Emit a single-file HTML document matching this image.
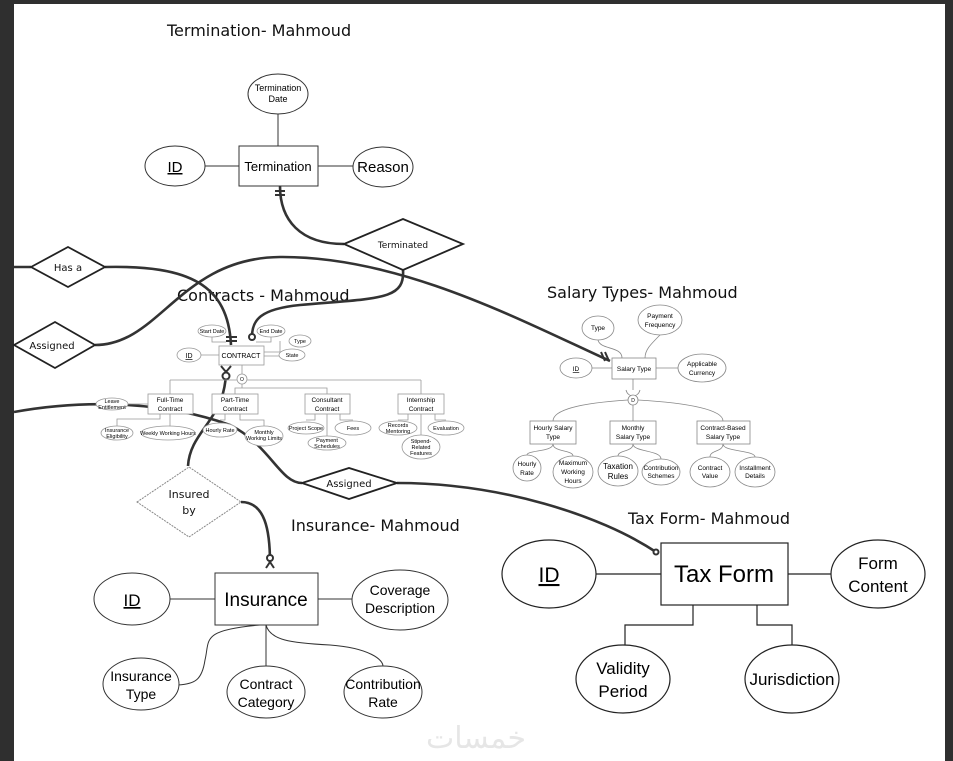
<!DOCTYPE html>
<html><head><meta charset="utf-8"><style>
html,body{margin:0;padding:0;background:#2f2f2f;}
svg{display:block;}
.t{font-family:"Liberation Sans",sans-serif;fill:#000;}
.o{font-family:"DejaVu Sans","Liberation Sans",sans-serif;fill:#111;}
</style></head><body>
<svg width="953" height="761" viewBox="0 0 953 761" xmlns="http://www.w3.org/2000/svg">
<rect x="0" y="0" width="953" height="761" fill="#2f2f2f"/>
<rect x="14" y="4" width="931" height="757" fill="#fff"/>

<!-- Titles -->
<text x="167" y="36" class="o" font-size="16">Termination- Mahmoud</text>
<text x="177" y="301" class="o" font-size="16">Contracts - Mahmoud</text>
<text x="547" y="298" class="o" font-size="16">Salary Types- Mahmoud</text>
<text x="291" y="531" class="o" font-size="16">Insurance- Mahmoud</text>
<text x="628" y="524" class="o" font-size="16">Tax Form- Mahmoud</text>

<!-- Termination -->
<g stroke="#333" stroke-width="1" fill="#fff">
<line x1="278" y1="114" x2="278" y2="146"/>
<line x1="205" y1="166" x2="239" y2="166"/>
<line x1="318" y1="166" x2="353" y2="166"/>
<ellipse cx="278" cy="94" rx="30" ry="20"/>
<rect x="239" y="146" width="79" height="40"/>
<ellipse cx="175" cy="166" rx="30" ry="20"/>
<ellipse cx="383" cy="167" rx="30" ry="20"/>
</g>
<text x="278" y="91" class="t" font-size="9" text-anchor="middle">Termination</text>
<text x="278" y="102" class="t" font-size="9" text-anchor="middle">Date</text>
<text x="278" y="171" class="t" font-size="13" text-anchor="middle">Termination</text>
<text x="175" y="172" class="t" font-size="15" text-anchor="middle" text-decoration="underline">ID</text>
<text x="383" y="172" class="t" font-size="15" text-anchor="middle">Reason</text>

<!-- Thick relationship lines -->
<g stroke="#333" stroke-width="2.6" fill="none">
<path d="M280,186 C280,220 300,244 344,244"/>
<path d="M14,267 L31,267"/>
<path d="M105,267 C190,265 228,285 231,345"/>
<path d="M95,345 C160,345 180,258 280,257 C400,256 520,320 610,361"/>
<path d="M403,270 C405,300 380,298 300,305 C260,309 252,320 252,337"/>
<path d="M226,370 C226,420 190,430 188,466"/>
<path d="M14,412 C80,400 160,400 230,425 C270,445 280,483 302,483"/>
<path d="M397,483 C500,483 600,515 656,552"/>
<path d="M241,502 C265,502 270,530 270,563"/>
</g>
<g stroke="#333" stroke-width="2" fill="#fff">
<line x1="275" y1="191" x2="285" y2="191"/><line x1="275" y1="195" x2="285" y2="195"/>
<line x1="226" y1="337" x2="237" y2="337"/><line x1="226" y1="341" x2="237" y2="341"/>
<circle cx="252" cy="337" r="3"/>
<circle cx="226" cy="376" r="3.5"/>
<path d="M221,366 L226,372 L231,366" fill="none"/>
<line x1="601" y1="352" x2="605" y2="361"/><line x1="605" y1="352" x2="609" y2="361"/>
<circle cx="656" cy="552" r="2.5"/>
<circle cx="270" cy="558" r="3"/>
<path d="M266,568 L270,562 L274,568" fill="none"/>
</g>

<!-- Diamonds -->
<g stroke="#222" stroke-width="1.8" fill="#fff">
<polygon points="344,244 403,219 463,244 403,270"/>
<polygon points="31,267 68,247 105,267 68,287"/>
<polygon points="14,345 55,322 95,345 55,368"/>
<polygon points="302,483 349,468 397,483 349,499"/>
</g>
<polygon points="137,502 189,467 241,502 189,537" stroke="#888" stroke-width="1" stroke-dasharray="2,1" fill="#fff"/>
<text x="403" y="248" class="o" font-size="9" text-anchor="middle">Terminated</text>
<text x="68" y="271" class="o" font-size="10" text-anchor="middle">Has a</text>
<text x="52" y="349" class="o" font-size="10" text-anchor="middle">Assigned</text>
<text x="349" y="487" class="o" font-size="10" text-anchor="middle">Assigned</text>
<text x="189" y="498" class="o" font-size="11" text-anchor="middle">Insured</text>
<text x="189" y="514" class="o" font-size="11" text-anchor="middle">by</text>

<!-- Contracts small diagram -->
<g stroke="#999" stroke-width="0.8" fill="#fff">
<path d="M212,337 V342 H226 M271,337 V342 H256 M264,352 H280 V341 M264,356 H279 M201,355 H219"/>
<path d="M242,365 V374 M170,380 H237 M247,380 H421 M170,380 V394 M421,380 V394 M242,384 V388 H235 V394 M242,388 H327 V394"/>
<path d="M148,404 H127 M160,414 V419 H117 V427 M170,414 V427 M225,414 V420 H220 M240,414 V420 H264 V426 M327,414 V437 M315,414 V420 H306 M340,414 V420 H353 M408,414 V420 H398 M421,414 V435 M435,414 V420 H446"/>
<ellipse cx="212" cy="331" rx="14" ry="6"/>
<ellipse cx="271" cy="331" rx="14" ry="6"/>
<ellipse cx="300" cy="341" rx="11" ry="6"/>
<ellipse cx="292" cy="355" rx="13" ry="6"/>
<ellipse cx="189" cy="355" rx="12" ry="7"/>
<rect x="219" y="346" width="45" height="19"/>
<circle cx="242" cy="379" r="5"/>
<rect x="148" y="394" width="45" height="20"/>
<rect x="212" y="394" width="46" height="20"/>
<rect x="305" y="394" width="45" height="20"/>
<rect x="398" y="394" width="46" height="20"/>
<ellipse cx="112" cy="404" rx="16" ry="6"/>
<ellipse cx="117" cy="433" rx="16" ry="7"/>
<ellipse cx="168" cy="433" rx="27" ry="7"/>
<ellipse cx="220" cy="430" rx="17" ry="7"/>
<ellipse cx="264" cy="436" rx="19" ry="10"/>
<ellipse cx="306" cy="428" rx="18" ry="6"/>
<ellipse cx="353" cy="428" rx="18" ry="7"/>
<ellipse cx="327" cy="443" rx="19" ry="7"/>
<ellipse cx="398" cy="428" rx="19" ry="7"/>
<ellipse cx="446" cy="428" rx="18" ry="7"/>
<ellipse cx="421" cy="447" rx="19" ry="12"/>
</g>
<g class="t" font-size="5.5" text-anchor="middle" fill="#333">
<text x="212" y="333">Start Date</text><text x="271" y="333">End Date</text>
<text x="300" y="343">Type</text><text x="292" y="357">State</text>
<text x="189" y="358" text-decoration="underline" font-size="7">ID</text>
<text x="241" y="358" font-size="7">CONTRACT</text>
<text x="242" y="381" font-size="5">O</text>
<text x="170" y="402" font-size="6.5">Full-Time</text><text x="170" y="411" font-size="6.5">Contract</text>
<text x="235" y="402" font-size="6.5">Part-Time</text><text x="235" y="411" font-size="6.5">Contract</text>
<text x="327" y="402" font-size="6.5">Consultant</text><text x="327" y="411" font-size="6.5">Contract</text>
<text x="421" y="402" font-size="6.5">Internship</text><text x="421" y="411" font-size="6.5">Contract</text>
<text x="112" y="403">Leave</text><text x="112" y="409">Entitlement</text>
<text x="117" y="432">Insurance</text><text x="117" y="438">Eligibility</text>
<text x="168" y="435">Weekly Working Hours</text>
<text x="220" y="432">Hourly Rate</text>
<text x="264" y="434">Monthly</text><text x="264" y="440">Working Limits</text>
<text x="306" y="430">Project Scope</text><text x="353" y="430">Fees</text>
<text x="327" y="442">Payment</text><text x="327" y="448">Schedules</text>
<text x="398" y="427">Records</text><text x="398" y="433">Mentoring</text>
<text x="446" y="430">Evaluation</text>
<text x="421" y="443">Stipend-</text><text x="421" y="449">Related</text><text x="421" y="455">Features</text>
</g>

<!-- Salary Types -->
<g stroke="#888" stroke-width="0.8" fill="#fff">
<path d="M598,340 C600,350 622,346 622,358 M660,335 C650,345 645,350 645,358 M592,368 H612 M656,368 H678 M633,379 V395"/>
<path d="M626,390 C628,398 638,398 640,390"/>
<path d="M628,400 C580,403 553,410 553,421 M638,400 C690,403 723,410 723,421 M633,405 V421"/>
<path d="M553,444 C553,452 527,450 527,455 M553,444 C553,452 573,450 573,456 M633,444 C633,452 618,450 618,456 M633,444 C633,452 661,450 661,459 M723,444 C723,452 710,450 710,457 M723,444 C723,452 755,450 755,457"/>
<rect x="612" y="358" width="44" height="21"/>
<ellipse cx="576" cy="368" rx="16" ry="10"/>
<ellipse cx="598" cy="328" rx="16" ry="12"/>
<ellipse cx="660" cy="320" rx="22" ry="15"/>
<ellipse cx="702" cy="368" rx="24" ry="14"/>
<circle cx="633" cy="400" r="5"/>
<rect x="530" y="421" width="46" height="23"/>
<rect x="610" y="421" width="46" height="23"/>
<rect x="697" y="421" width="53" height="23"/>
<ellipse cx="527" cy="468" rx="14" ry="13"/>
<ellipse cx="573" cy="472" rx="20" ry="16"/>
<ellipse cx="618" cy="471" rx="20" ry="15"/>
<ellipse cx="661" cy="472" rx="19" ry="13"/>
<ellipse cx="710" cy="472" rx="20" ry="15"/>
<ellipse cx="755" cy="472" rx="20" ry="15"/>
</g>
<g class="t" font-size="6.5" text-anchor="middle" fill="#333">
<text x="634" y="371">Salary Type</text>
<text x="576" y="371" text-decoration="underline">ID</text>
<text x="598" y="330">Type</text>
<text x="660" y="318">Payment</text><text x="660" y="327">Frequency</text>
<text x="702" y="366">Applicable</text><text x="702" y="375">Currency</text>
<text x="633" y="402" font-size="5">D</text>
<text x="553" y="430">Hourly Salary</text><text x="553" y="439">Type</text>
<text x="633" y="430">Monthly</text><text x="633" y="439">Salary Type</text>
<text x="723" y="430">Contract-Based</text><text x="723" y="439">Salary Type</text>
<text x="527" y="466">Hourly</text><text x="527" y="475">Rate</text>
<text x="573" y="465">Maximum</text><text x="573" y="474">Working</text><text x="573" y="483">Hours</text>
<text x="618" y="469" font-size="8">Taxation</text><text x="618" y="479" font-size="8">Rules</text>
<text x="661" y="470">Contribution</text><text x="661" y="478">Schemes</text>
<text x="710" y="470">Contract</text><text x="710" y="478">Value</text>
<text x="755" y="470">Installment</text><text x="755" y="478">Details</text>
</g>

<!-- Insurance -->
<g stroke="#333" stroke-width="1" fill="#fff">
<path d="M170,599 H215 M318,599 H352"/>
<path d="M260,625 C200,630 210,640 205,660 C202,680 195,684 178,685 M266,625 V666 M266,625 C270,640 290,643 330,645 C370,648 383,660 383,666"/>
<rect x="215" y="573" width="103" height="52"/>
<ellipse cx="132" cy="599" rx="38" ry="26"/>
<ellipse cx="400" cy="600" rx="48" ry="30"/>
<ellipse cx="141" cy="684" rx="38" ry="26"/>
<ellipse cx="266" cy="692" rx="39" ry="26"/>
<ellipse cx="383" cy="692" rx="39" ry="26"/>
</g>
<g class="t" text-anchor="middle">
<text x="266" y="606" font-size="19">Insurance</text>
<text x="132" y="606" font-size="17" text-decoration="underline">ID</text>
<text x="400" y="595" font-size="14">Coverage</text><text x="400" y="613" font-size="14">Description</text>
<text x="141" y="681" font-size="14">Insurance</text><text x="141" y="699" font-size="14">Type</text>
<text x="266" y="689" font-size="14">Contract</text><text x="266" y="707" font-size="14">Category</text>
<text x="383" y="689" font-size="14">Contribution</text><text x="383" y="707" font-size="14">Rate</text>
</g>

<!-- Tax Form -->
<g stroke="#222" stroke-width="1.2" fill="#fff">
<path d="M596,574 H661 M788,574 H831 M693,605 V625 H625 V645 M757,605 V625 H792 V645"/>
<rect x="661" y="543" width="127" height="62"/>
<ellipse cx="549" cy="574" rx="47" ry="34"/>
<ellipse cx="878" cy="574" rx="47" ry="34"/>
<ellipse cx="623" cy="679" rx="47" ry="34"/>
<ellipse cx="792" cy="679" rx="47" ry="34"/>
</g>
<g class="t" text-anchor="middle">
<text x="724" y="582" font-size="24">Tax Form</text>
<text x="549" y="582" font-size="21" text-decoration="underline">ID</text>
<text x="878" y="569" font-size="17">Form</text><text x="878" y="592" font-size="17">Content</text>
<text x="623" y="674" font-size="17">Validity</text><text x="623" y="697" font-size="17">Period</text>
<text x="792" y="685" font-size="17">Jurisdiction</text>
</g>

<text x="476" y="748" font-family="'DejaVu Sans',sans-serif" font-size="30" fill="#e6e6e6" text-anchor="middle">خمسات</text>
</svg>
</body></html>
